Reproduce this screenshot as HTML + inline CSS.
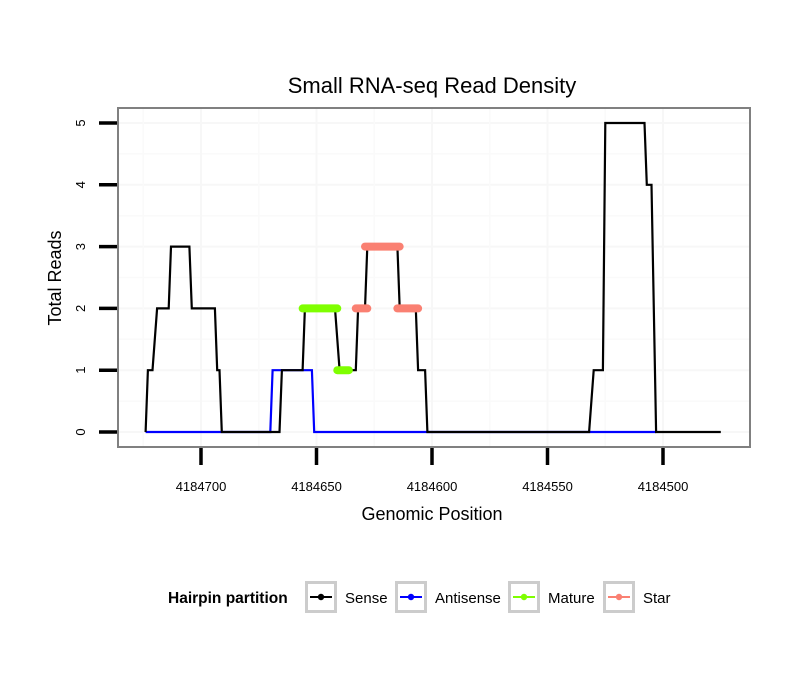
<!DOCTYPE html>
<html><head><meta charset="utf-8"><style>
body{margin:0;background:#fff;}
svg text{font-family:"Liberation Sans",sans-serif;}
</style></head><body>
<svg id="chart" width="810" height="690" xmlns="http://www.w3.org/2000/svg">
<rect width="810" height="690" fill="#fff"/>
<text x="432" y="93" font-size="22" text-anchor="middle">Small RNA-seq Read Density</text>
<g id="grid"></g>
<g id="series"></g>
<rect x="118" y="108" width="632" height="339" fill="none" stroke="#808080" stroke-width="2"/>
<g id="axes"></g>
<text x="432" y="520" font-size="18" text-anchor="middle">Genomic Position</text>
<text transform="translate(61,278) rotate(-90)" font-size="18" text-anchor="middle">Total Reads</text>
<g>
<text x="168" y="603" font-size="15.5" font-weight="bold">Hairpin partition</text>
<g id="legend"></g>
</g>
</svg>
<script>
const senseX=[4184724,4184723,4184721,4184719,4184714,4184713,4184705,4184704,4184694,4184693,4184692,4184691,4184666,4184665,4184656,4184655,4184642,4184640,4184633,4184632,4184629,4184628,4184615,4184614,4184607,4184606,4184603,4184602,4184532,4184530,4184526,4184525,4184508,4184507,4184505,4184503,4184475];
const senseY=[0,1,1,2,2,3,3,2,2,1,1,0,0,1,1,2,2,1,1,2,2,3,3,2,2,1,1,0,0,1,1,5,5,4,4,0,0];
const antiX=[4184724,4184670,4184669,4184652,4184651,4184503];
const antiY=[0,0,1,1,0,0];
const matureSegs=[[4184656,4184641,2],[4184641,4184636,1]];
const starSegs=[[4184633,4184628,2],[4184629,4184614,3],[4184615,4184606,2]];
const xTicks=[4184700,4184650,4184600,4184550,4184500];
const yTicks=[0,1,2,3,4,5];
const legendLabels=["Sense","Antisense","Mature","Star"];
const legendColors=["#000000","#0000ff","#7fff00","#fa8072"];

const NS="http://www.w3.org/2000/svg";
function sx(p){return 201+(4184700-p)*2.31;}
function sy(v){return 432-v*61.8;}
function mk(tag,attrs,parent){const e=document.createElementNS(NS,tag);for(const k in attrs)e.setAttribute(k,attrs[k]);parent.appendChild(e);return e;}
const grid=document.getElementById('grid'),series=document.getElementById('series'),axes=document.getElementById('axes'),legend=document.getElementById('legend');
for(let i=0;i<yTicks.length;i++){
  let l=mk('line',{x1:118,x2:750,y1:sy(yTicks[i]),y2:sy(yTicks[i]),stroke:'#f7f7f7','stroke-width':2},grid);
  
  
  if(i<yTicks.length-1){let m=mk('line',{x1:118,x2:750,y1:sy(yTicks[i]+0.5),y2:sy(yTicks[i]+0.5),stroke:'#fafafa','stroke-width':1.5},grid);
  
  }
}
for(let i=0;i<xTicks.length;i++){
  let l=mk('line',{x1:sx(xTicks[i]),x2:sx(xTicks[i]),y1:108,y2:447,stroke:'#f7f7f7','stroke-width':2},grid);
  
  
  let m=mk('line',{x1:sx(xTicks[i]+25),x2:sx(xTicks[i]+25),y1:108,y2:447,stroke:'#fafafa','stroke-width':1.5},grid);
  
  
}
function path(xs,ys,color,name){
  let d=xs.map((x,i)=>(i?'L':'M')+sx(x).toFixed(1)+' '+sy(ys[i]).toFixed(1)).join(' ');
  let p=mk('path',{d:d,fill:'none',stroke:color,'stroke-width':2.2,'stroke-linejoin':'miter'},series);
  
  
}
path(antiX,antiY,'#0000ff','antisense-line');
path(senseX,senseY,'#000000','sense-line');
function segs(arr,color,name){
  arr.forEach(s=>{
    let l=mk('line',{x1:sx(s[0]),x2:sx(s[1]),y1:sy(s[2]),y2:sy(s[2]),stroke:color,'stroke-width':8,'stroke-linecap':'round'},series);
    
    
  });
}
segs(matureSegs,'#7fff00','mature-segment');
segs(starSegs,'#fa8072','star-segment');
yTicks.forEach(v=>{
  let t=mk('line',{x1:99,x2:117,y1:sy(v),y2:sy(v),stroke:'#000','stroke-width':3.5},axes);
  
  
  let tx=mk('text',{transform:`translate(85,${sy(v)}) rotate(-90)`,'font-size':13,'text-anchor':'middle'},axes);
  tx.textContent=v;
  
  
});
xTicks.forEach(v=>{
  let t=mk('line',{x1:sx(v),x2:sx(v),y1:448,y2:465,stroke:'#000','stroke-width':3.5},axes);
  
  
  let tx=mk('text',{x:sx(v),y:491,'font-size':13,'text-anchor':'middle'},axes);
  tx.textContent=v;
  
  
});
const boxX=[305,395,508,603];
legendLabels.forEach((lab,i)=>{
  let g=mk('g',{},legend);
  
  
  mk('rect',{x:boxX[i]+1.5,y:582.5,width:29,height:29,fill:'#fff',stroke:'#cccccc','stroke-width':3},g);
  mk('line',{x1:boxX[i]+5,x2:boxX[i]+27,y1:597,y2:597,stroke:legendColors[i],'stroke-width':2},g);
  mk('circle',{cx:boxX[i]+16,cy:597,r:3.2,fill:legendColors[i]},g);
  let t=mk('text',{x:boxX[i]+40,y:603,'font-size':15},g);
  t.textContent=lab;
});
</script>
</body></html>
